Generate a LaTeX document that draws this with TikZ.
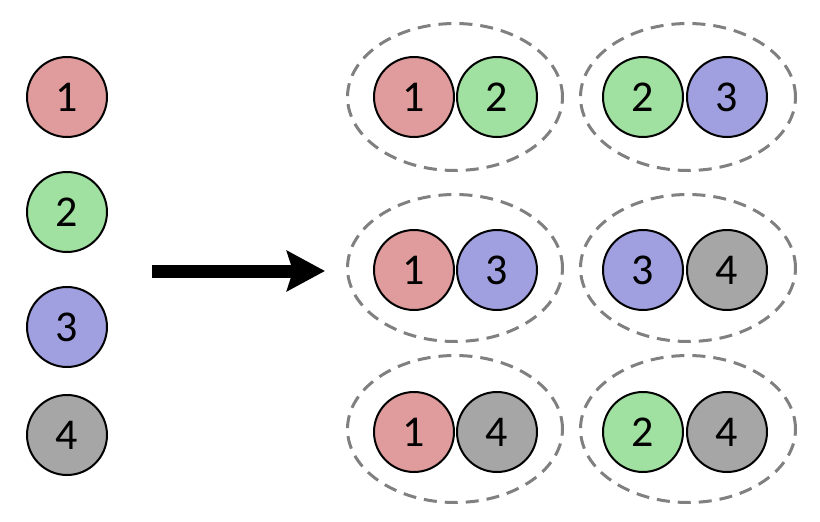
\documentclass[tikz,border=0pt]{standalone}
\usepackage{fontspec}
\setmainfont{Carlito}
\usetikzlibrary{shapes.geometric,arrows.meta}

\definecolor{cred}{RGB}{224,156,156}
\definecolor{cgreen}{RGB}{160,224,160}
\definecolor{cblue}{RGB}{160,160,224}
\definecolor{cgray}{RGB}{166,166,166}
\definecolor{cdash}{RGB}{128,128,128}

\tikzset{
    ball/.style={draw, circle, line width=2pt, minimum size=80pt, inner sep=0pt,
                 font=\fontsize{44}{52}\selectfont},
    pair/.style={draw=cdash, ellipse, dashed, dash pattern=on 13pt off 8pt,
                 line width=3pt, minimum width=215pt, minimum height=147pt}
}

\begin{document}
\begin{tikzpicture}[x=1pt, y=-1pt]
        \useasboundingbox (0, 0) rectangle (820, 522);

        % single elements
        \node[ball, fill=cred]   (s1) at (67, 97)  {1};
        \node[ball, fill=cgreen] (s2) at (67, 212) {2};
        \node[ball, fill=cblue]  (s3) at (67, 327) {3};
        \node[ball, fill=cgray]  (s4) at (67, 435) {4};

        % arrow
        \coordinate (from) at (152, 271);
        \coordinate (to)   at (325, 271);
        \draw [line width=13pt, -{Stealth[length=38pt, width=40pt, inset=6pt]}] (from)--(to);

        % pairs, first column
        \node[pair] (p12) at (455, 97)  {};
        \node[pair] (p13) at (455, 268) {};
        \node[pair] (p14) at (455, 429) {};
        \node[ball, fill=cred]   (a1) at (414, 97)  {1};
        \node[ball, fill=cgreen] (a2) at (497, 97)  {2};
        \node[ball, fill=cred]   (b1) at (414, 270) {1};
        \node[ball, fill=cblue]  (b3) at (497, 270) {3};
        \node[ball, fill=cred]   (c1) at (414, 432) {1};
        \node[ball, fill=cgray]  (c4) at (497, 432) {4};

        % pairs, second column
        \node[pair] (p23) at (688, 97)  {};
        \node[pair] (p34) at (688, 268) {};
        \node[pair] (p24) at (688, 429) {};
        \node[ball, fill=cgreen] (d2) at (643, 97)  {2};
        \node[ball, fill=cblue]  (d3) at (727, 97)  {3};
        \node[ball, fill=cblue]  (e3) at (643, 270) {3};
        \node[ball, fill=cgray]  (e4) at (727, 270) {4};
        \node[ball, fill=cgreen] (f2) at (643, 432) {2};
        \node[ball, fill=cgray]  (f4) at (727, 432) {4};
    \end{tikzpicture}
\end{document}
